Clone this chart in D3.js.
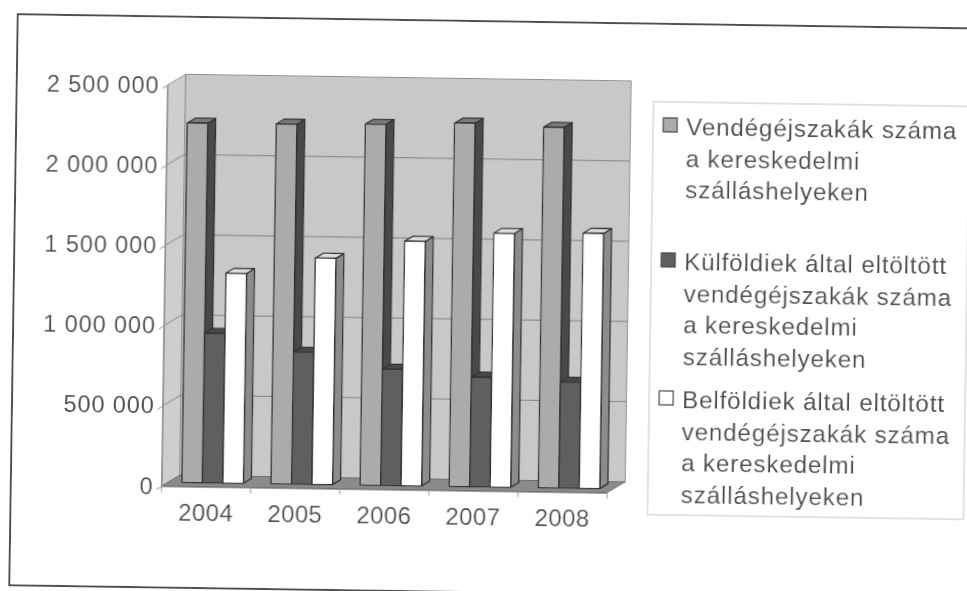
<!DOCTYPE html>
<html>
<head>
<meta charset="utf-8">
<script src="https://cdn.jsdelivr.net/npm/d3@7"></script>
<style>
  html, body { margin: 0; background: #fff; overflow: hidden; }
  text { font-family: "Liberation Sans", Arial, sans-serif; fill: #505050; }
</style>
</head>
<body>
<script>
const years = ["2004", "2005", "2006", "2007", "2008"];
const guestNights = [2240000, 2243000, 2250000, 2265000, 2247000];
const foreignNights = [932000, 822000, 724000, 683000, 660000];
const domesticNights = [1308000, 1410000, 1524000, 1582000, 1590000];
const yTicks = [0, 500000, 1000000, 1500000, 2000000, 2500000];
const legendLabels = [
  ["Vendégéjszakák száma", "a kereskedelmi", "szálláshelyeken"],
  ["Külföldiek által eltöltött", "vendégéjszakák száma", "a kereskedelmi", "szálláshelyeken"],
  ["Belföldiek által eltöltött", "vendégéjszakák száma", "a kereskedelmi", "szálláshelyeken"]
];

const seriesNames = ["guest", "foreign", "domestic"];
const seriesValues = [guestNights, foreignNights, domesticNights];
const front = ["#ababab", "#5e5e5e", "#ffffff"];
const side = ["#484848", "#3c3c3c", "#8c8c8c"];
const topFace = ["#7a7a7a", "#4a4a4a", "#dcdcdc"];

// depth of the floor and of the bars, the picture is an oblique projection
const floorDx = 18, floorDy = -11;
const barDx = 8, barDy = -5;
const barShiftX = 6.5, barShiftY = -4;

const svg = d3.select("body").append("svg")
  .attr("width", 967)
  .attr("height", 591);

const defs = svg.append("defs");
defs.append("filter").attr("id", "soft")
  .append("feGaussianBlur").attr("stdDeviation", 0.55);

// halftone grain of the scanned wall
const grain = defs.append("filter").attr("id", "grain");
grain.append("feTurbulence")
  .attr("type", "fractalNoise")
  .attr("baseFrequency", 0.45)
  .attr("numOctaves", 2)
  .attr("seed", 4)
  .attr("result", "noise");
grain.append("feColorMatrix")
  .attr("in", "noise")
  .attr("type", "matrix")
  .attr("values", "0 0 0 0 0.45  0 0 0 0 0.45  0 0 0 0 0.45  0.5 0 0 0 -0.17")
  .attr("result", "spots");
grain.append("feComposite")
  .attr("in", "spots")
  .attr("in2", "SourceGraphic")
  .attr("operator", "atop")
  .attr("result", "mixed");

// the scan is slightly turned, everything hangs under this group
const root = svg.append("g")
  .attr("transform", "rotate(0.85)")
  .attr("filter", "url(#soft)");

root.append("rect")
  .attr("x", 18).attr("y", 14)
  .attr("width", 1000).attr("height", 571)
  .attr("fill", "#fff")
  .attr("stroke", "#505050")
  .attr("stroke-width", 2);

const xScale = d3.scaleBand()
  .domain(years)
  .range([168.7, 614.3])
  .paddingInner(0.31)
  .paddingOuter(0.155);

const seriesScale = d3.scaleBand()
  .domain(seriesNames)
  .range([0, xScale.bandwidth()]);

const yScale = d3.scaleLinear()
  .domain([0, 2500000])
  .range([483.6, 82.5]);

const x0 = xScale.range()[0], x1 = xScale.range()[1];
const y0 = yScale(0), yTop = yScale(2500000);

function poly(parent, pts, fill, stroke, width) {
  return parent.append("polygon")
    .attr("points", pts.map(p => p.join(",")).join(" "))
    .attr("fill", fill)
    .attr("stroke", stroke)
    .attr("stroke-width", width);
}

// walls and floor
poly(root, [[x0 + floorDx, y0 + floorDy], [x1 + floorDx, y0 + floorDy], [x1 + floorDx, yTop + floorDy], [x0 + floorDx, yTop + floorDy]], "#cacaca", "#8a8a8a", 1)
  .attr("filter", "url(#grain)");
poly(root, [[x0, y0], [x0 + floorDx, y0 + floorDy], [x0 + floorDx, yTop + floorDy], [x0, yTop]], "#d0d0d0", "#8a8a8a", 1)
  .attr("filter", "url(#grain)");
poly(root, [[x0, y0], [x1, y0], [x1 + floorDx, y0 + floorDy], [x0 + floorDx, y0 + floorDy]], "#8b8b8b", "#6e6e6e", 1);

// gridlines along side wall and back wall
yTicks.slice(1, -1).forEach(t => {
  root.append("polyline")
    .attr("points", [[x0, yScale(t)], [x0 + floorDx, yScale(t) + floorDy], [x1 + floorDx, yScale(t) + floorDy]].map(p => p.join(",")).join(" "))
    .attr("fill", "none")
    .attr("stroke", "#808080")
    .attr("stroke-width", 1);
});

// bars, left to right so the next front covers the previous side
years.forEach((year, i) => {
  seriesNames.forEach((name, s) => {
    const left = xScale(year) + seriesScale(name) + barShiftX;
    const right = left + seriesScale.bandwidth();
    const top = yScale(seriesValues[s][i]) + barShiftY;
    const bottom = y0 + barShiftY;
    const g = root.append("g").attr("stroke-linejoin", "round");
    poly(g, [[right, bottom], [right + barDx, bottom + barDy], [right + barDx, top + barDy], [right, top]], side[s], "#303030", 1.3);
    poly(g, [[left, top], [right, top], [right + barDx, top + barDy], [left + barDx, top + barDy]], topFace[s], "#303030", 1.3);
    poly(g, [[left, bottom], [right, bottom], [right, top], [left, top]], front[s], "#303030", 1.3);
  });
});

// axes
const yAxis = d3.axisLeft(yScale)
  .tickValues(yTicks)
  .tickSize(0)
  .tickPadding(8)
  .tickFormat(d => d3.format(",")(d).replace(/,/g, " "));

const yAxisG = root.append("g")
  .attr("transform", "translate(" + x0 + ",0)")
  .call(yAxis);
yAxisG.select(".domain").attr("stroke", "#8a8a8a");
yAxisG.selectAll(".tick line")
  .attr("x2", -5).attr("y2", 3)
  .attr("stroke", "#8a8a8a");
yAxisG.selectAll(".tick text")
  .attr("font-size", 23.5)
  .attr("letter-spacing", 0.9)
  .attr("fill", "#505050");

const xAxis = d3.axisBottom(xScale).tickSize(0).tickPadding(17);
const xAxisG = root.append("g")
  .attr("transform", "translate(0," + y0 + ")")
  .call(xAxis);
xAxisG.select(".domain").attr("stroke", "#6e6e6e");
xAxisG.selectAll(".tick text")
  .attr("font-size", 24)
  .attr("letter-spacing", 0.4)
  .attr("fill", "#505050");

// tick marks sit between the categories
years.forEach((year, i) => {
  const tx = x0 + i * xScale.step();
  root.append("line")
    .attr("x1", tx).attr("x2", tx)
    .attr("y1", y0).attr("y2", y0 + 6)
    .attr("stroke", "#9a9a9a");
});
root.append("line")
  .attr("x1", x1).attr("x2", x1)
  .attr("y1", y0).attr("y2", y0 + 6)
  .attr("stroke", "#9a9a9a");

// legend
const legend = root.append("g");
legend.append("rect")
  .attr("x", 655).attr("y", 92)
  .attr("width", 316).attr("height", 413)
  .attr("fill", "#fff")
  .attr("stroke", "#cfcfcf")
  .attr("stroke-width", 1.2);

const legendStartY = [125, 260, 398];
legendLabels.forEach((lines, s) => {
  legend.append("rect")
    .attr("x", 665).attr("y", legendStartY[s] - 17)
    .attr("width", 14).attr("height", 14)
    .attr("fill", front[s])
    .attr("stroke", "#444")
    .attr("stroke-width", 1.2);
  lines.forEach((line, k) => {
    legend.append("text")
      .attr("x", 688)
      .attr("y", legendStartY[s] + k * 31.5)
      .attr("font-size", 24.2)
      .attr("letter-spacing", 0.85)
      .text(line);
  });
});
</script>
</body>
</html>
